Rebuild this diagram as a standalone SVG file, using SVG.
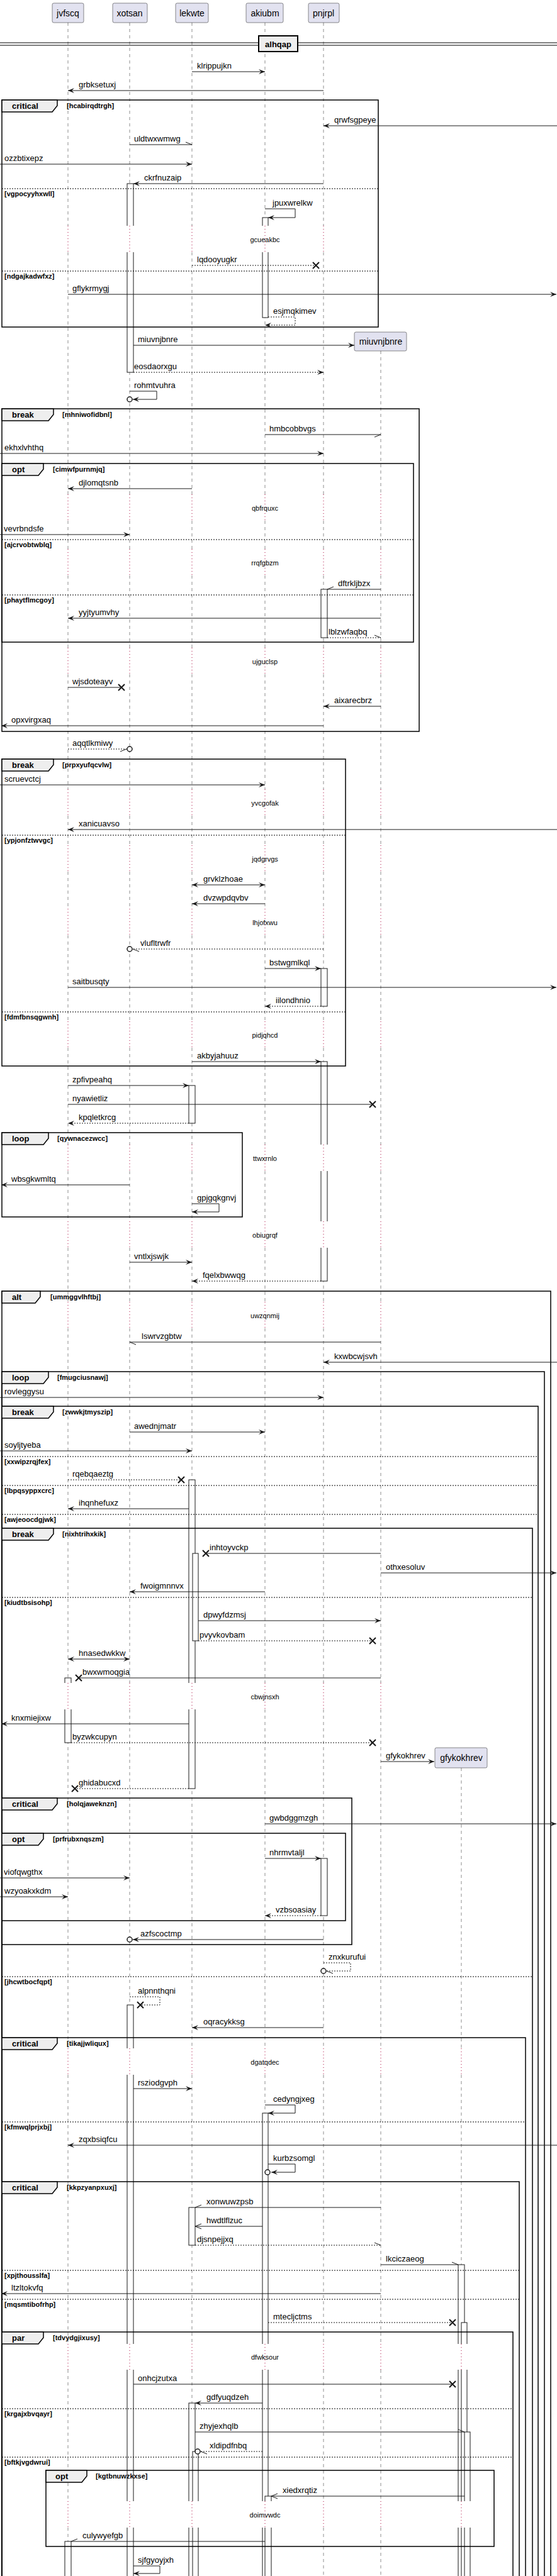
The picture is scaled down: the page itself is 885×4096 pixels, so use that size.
<svg xmlns="http://www.w3.org/2000/svg" width="885" height="4096" viewBox="0 0 885 4096">
<style>
text{font-family:"Liberation Sans",Arial,sans-serif;fill:#000}
.t{font-size:13px}
.p{font-size:14px}
.dt{font-size:11px}
.g{font-size:11px;font-weight:bold}
.b{font-size:13px;font-weight:bold}
.ll{stroke:#181818;stroke-width:0.5;stroke-dasharray:5,5;fill:none}
.dl{stroke:#A80036;stroke-width:1;stroke-dasharray:1,4;fill:none}
.act{fill:#FFFFFF;stroke:#181818;stroke-width:1}
.cov{fill:#FFFFFF;stroke:none}
.fr{fill:none;stroke:#000;stroke-width:1.5}
.tab{fill:#EEEEEE;stroke:#000;stroke-width:1.5}
.sep{stroke:#000;stroke-width:1;stroke-dasharray:2,2}
.m{stroke:#181818;stroke-width:1;fill:none}
.d{stroke-dasharray:2,2}
.x{stroke:#181818;stroke-width:2}
.c{fill:#FFFFFF;stroke:#181818;stroke-width:1.5}
.box{fill:#E2E2F0;stroke:#181818;stroke-width:0.5}
</style>
<defs>
<marker id="f" viewBox="-11 -5 12 10" refX="0" refY="0" markerWidth="12" markerHeight="10" markerUnits="userSpaceOnUse" orient="auto-start-reverse"><path d="M-10,-4L0,0L-10,4L-6,0Z" fill="#181818"/></marker>
<marker id="o" viewBox="-11 -5 12 10" refX="0" refY="0" markerWidth="12" markerHeight="10" markerUnits="userSpaceOnUse" orient="auto"><path d="M-10,-4L0,0L-10,4" fill="none" stroke="#181818" stroke-width="1"/></marker>
<marker id="hu" viewBox="-11 -5 12 10" refX="0" refY="0" markerWidth="12" markerHeight="10" markerUnits="userSpaceOnUse" orient="auto"><path d="M-10,-4L0,0" fill="none" stroke="#181818" stroke-width="1"/></marker>
<marker id="hd" viewBox="-11 -5 12 10" refX="0" refY="0" markerWidth="12" markerHeight="10" markerUnits="userSpaceOnUse" orient="auto"><path d="M-10,4L0,0" fill="none" stroke="#181818" stroke-width="1"/></marker>
<path id="lla" d="M0 36V359M0 401V786M0 828V873M0 915V1030M0 1072V1255M0 1297V1344M0 1386V1445M0 1487V1624M0 1666V1820M0 1862V1942M0 1984V2070M0 2112V2676M0 2718V3257M0 3299V3727M0 3768V3977M0 4019V4096"/>
<path id="llm" d="M0 558V786M0 828V873M0 915V1030M0 1072V1255M0 1297V1344M0 1386V1445M0 1487V1624M0 1666V1820M0 1862V1942M0 1984V2070M0 2112V2676M0 2718V3257M0 3299V3727M0 3768V3977M0 4019V4096"/>
<path id="llg" d="M0 2811V3257M0 3299V3727M0 3768V3977M0 4019V4096"/>
<path id="dla" d="M0 359V401M0 786V828M0 873V915M0 1030V1072M0 1255V1297M0 1344V1386M0 1445V1487M0 1624V1666M0 1820V1862M0 1942V1984M0 2070V2112M0 2676V2718M0 3257V3299M0 3727V3768M0 3977V4019"/>
<path id="dlm" d="M0 786V828M0 873V915M0 1030V1072M0 1255V1297M0 1344V1386M0 1445V1487M0 1624V1666M0 1820V1862M0 1942V1984M0 2070V2112M0 2676V2718M0 3257V3299M0 3727V3768M0 3977V4019"/>
<path id="dlg" d="M0 3257V3299M0 3727V3768M0 3977V4019"/>
</defs>
<rect x="0" y="0" width="885" height="4096" fill="#FFFFFF"/>
<g id="lifelines" class="ll">
<use href="#lla" x="108"/><use href="#lla" x="206"/><use href="#lla" x="305"/><use href="#lla" x="421"/><use href="#lla" x="514"/><use href="#llm" x="605"/><use href="#llg" x="733"/>
</g>
<g id="activations">
<rect class="act" x="202" y="292" width="10" height="300"/>
<rect class="act" x="417" y="346" width="9" height="159"/>
<rect class="act" x="510" y="937" width="10" height="77"/>
<rect class="act" x="510" y="1540" width="10" height="60"/>
<rect class="act" x="510" y="1688" width="10" height="349"/>
<rect class="act" x="300" y="1726" width="10" height="60"/>
<rect class="act" x="300" y="2353" width="10" height="491"/>
<rect class="act" x="306" y="2470" width="9" height="139"/>
<rect class="act" x="103" y="2668" width="10" height="103"/>
<rect class="act" x="510" y="2955" width="10" height="91"/>
<rect class="act" x="202" y="3188" width="10" height="920"/>
<rect class="act" x="417" y="3360" width="9" height="750"/>
<rect class="act" x="300" y="3510" width="10" height="60"/>
<rect class="act" x="728" y="3601" width="10" height="510"/>
<rect class="act" x="733" y="3693" width="9" height="420"/>
<rect class="act" x="300" y="3821" width="10" height="290"/>
<rect class="act" x="738" y="3867" width="9" height="240"/>
<rect class="act" x="306" y="3898" width="9" height="210"/>
<rect class="act" x="421" y="3969" width="10" height="140"/>
<rect class="act" x="103" y="4041" width="10" height="70"/>
</g>
<g id="delaycovers">
<rect class="cov" x="201" y="359" width="12" height="42"/>
<rect class="cov" x="416" y="359" width="11" height="42"/>
<rect class="cov" x="509" y="1820" width="12" height="42"/>
<rect class="cov" x="509" y="1942" width="12" height="42"/>
<rect class="cov" x="102" y="2676" width="12" height="42"/>
<rect class="cov" x="299" y="2676" width="12" height="42"/>
<rect class="cov" x="201" y="3257" width="12" height="42"/>
<rect class="cov" x="201" y="3727" width="12" height="41"/>
<rect class="cov" x="416" y="3727" width="11" height="41"/>
<rect class="cov" x="727" y="3727" width="16" height="41"/>
<rect class="cov" x="201" y="3977" width="12" height="42"/>
<rect class="cov" x="299" y="3977" width="17" height="42"/>
<rect class="cov" x="416" y="3977" width="16" height="42"/>
<rect class="cov" x="727" y="3977" width="21" height="42"/>
</g>
<g id="delaylines" class="dl">
<use href="#dla" x="108"/><use href="#dla" x="206"/><use href="#dla" x="305"/><use href="#dla" x="421"/><use href="#dla" x="514"/><use href="#dlm" x="605"/><use href="#dlg" x="733"/>
</g>
<g id="delaytexts" class="dt" text-anchor="middle">
<text x="421" y="385">gcueakbc</text>
<text x="421" y="812">qbfrquxc</text>
<text x="421" y="899">rrqfgbzm</text>
<text x="421" y="1056">ujguclsp</text>
<text x="421" y="1281">yvcgofak</text>
<text x="421" y="1370">jqdgrvgs</text>
<text x="421" y="1471">lhjofxwu</text>
<text x="421" y="1650">pidjqhcd</text>
<text x="421" y="1846">ttwxrnlo</text>
<text x="421" y="1968">obiugrqf</text>
<text x="421" y="2096">uwzqnmij</text>
<text x="421" y="2702">cbwjnsxh</text>
<text x="421" y="3283">dgatqdec</text>
<text x="421" y="3752">dfwksour</text>
<text x="421" y="4003">doimvwdc</text>
</g>
<g id="divider-alhqap">
<line x1="0" y1="68" x2="885" y2="68" stroke="#000" stroke-width="1"/>
<line x1="0" y1="72" x2="885" y2="72" stroke="#000" stroke-width="1"/>
<rect x="411" y="57" width="62" height="25" fill="#EEEEEE" stroke="#000" stroke-width="2"/>
<text class="b" x="442" y="75" text-anchor="middle">alhqap</text>
</g>
<g id="frames">
<g id="f1"><rect class="fr" x="3" y="159" width="598" height="361"/><path class="tab" d="M3 159H91V168L83 178H3Z"/><text class="b" x="19" y="173">critical</text><text class="g" x="106" y="172">[hcabirqdtrgh]</text>
<line class="sep" x1="3" y1="300" x2="601" y2="300"/><text class="g" x="7" y="312">[vgpocyyhxwll]</text>
<line class="sep" x1="3" y1="431" x2="601" y2="431"/><text class="g" x="7" y="443">[ndgajkadwfxz]</text></g>
<g id="f2"><rect class="fr" x="3" y="650" width="663" height="513"/><path class="tab" d="M3 650H85V659L77 669H3Z"/><text class="b" x="19" y="664">break</text><text class="g" x="99" y="663">[mhniwofidbnl]</text></g>
<g id="f3"><rect class="fr" x="3" y="737" width="654" height="284"/><path class="tab" d="M3 737H69V746L61 756H3Z"/><text class="b" x="19" y="751">opt</text><text class="g" x="84" y="750">[cimwfpurnmjq]</text>
<line class="sep" x1="3" y1="858" x2="657" y2="858"/><text class="g" x="7" y="870">[ajcrvobtwblq]</text>
<line class="sep" x1="3" y1="946" x2="657" y2="946"/><text class="g" x="7" y="958">[phaytflmcgoy]</text></g>
<g id="f4"><rect class="fr" x="3" y="1207" width="546" height="488"/><path class="tab" d="M3 1207H85V1216L77 1226H3Z"/><text class="b" x="19" y="1221">break</text><text class="g" x="99" y="1220">[prpxyufqcvlw]</text>
<line class="sep" x1="3" y1="1328" x2="549" y2="1328"/><text class="g" x="7" y="1340">[ypjonfztwvgc]</text>
<line class="sep" x1="3" y1="1609" x2="549" y2="1609"/><text class="g" x="7" y="1621">[fdmfbnsqgwnh]</text></g>
<g id="f5"><rect class="fr" x="3" y="1801" width="382" height="134"/><path class="tab" d="M3 1801H77V1810L69 1820H3Z"/><text class="b" x="19" y="1815">loop</text><text class="g" x="91" y="1814">[qywnacezwcc]</text></g>
<g id="f6"><rect class="fr" x="3" y="2053" width="872" height="2150"/><path class="tab" d="M3 2053H64V2062L56 2072H3Z"/><text class="b" x="19" y="2067">alt</text><text class="g" x="80" y="2066">[ummggvlhftbj]</text></g>
<g id="f7"><rect class="fr" x="3" y="2181" width="862" height="2020"/><path class="tab" d="M3 2181H77V2190L69 2200H3Z"/><text class="b" x="19" y="2195">loop</text><text class="g" x="91" y="2194">[fmugciusnawj]</text></g>
<g id="f8"><rect class="fr" x="3" y="2236" width="852" height="1960"/><path class="tab" d="M3 2236H85V2245L77 2255H3Z"/><text class="b" x="19" y="2250">break</text><text class="g" x="99" y="2249">[zwwkjtmyszip]</text>
<line class="sep" x1="3" y1="2316" x2="855" y2="2316"/><text class="g" x="7" y="2328">[xxwipzrqjfex]</text>
<line class="sep" x1="3" y1="2362" x2="855" y2="2362"/><text class="g" x="7" y="2374">[lbpqsyppxcrc]</text>
<line class="sep" x1="3" y1="2408" x2="855" y2="2408"/><text class="g" x="7" y="2420">[awjeoocdgjwk]</text></g>
<g id="f9"><rect class="fr" x="3" y="2430" width="843" height="1760"/><path class="tab" d="M3 2430H85V2439L77 2449H3Z"/><text class="b" x="19" y="2444">break</text><text class="g" x="99" y="2443">[nixhtrihxkik]</text>
<line class="sep" x1="3" y1="2540" x2="846" y2="2540"/><text class="g" x="7" y="2552">[kiudtbsisohp]</text>
<line class="sep" x1="3" y1="3143" x2="846" y2="3143"/><text class="g" x="7" y="3155">[jhcwtbocfqpt]</text></g>
<g id="f10"><rect class="fr" x="3" y="2859" width="556" height="233"/><path class="tab" d="M3 2859H91V2868L83 2878H3Z"/><text class="b" x="19" y="2873">critical</text><text class="g" x="106" y="2872">[holqjaweknzn]</text></g>
<g id="f11"><rect class="fr" x="3" y="2915" width="546" height="139"/><path class="tab" d="M3 2915H69V2924L61 2934H3Z"/><text class="b" x="19" y="2929">opt</text><text class="g" x="84" y="2928">[prfrubxnqszm]</text></g>
<g id="f12"><rect class="fr" x="3" y="3240" width="832" height="950"/><path class="tab" d="M3 3240H91V3249L83 3259H3Z"/><text class="b" x="19" y="3254">critical</text><text class="g" x="106" y="3253">[tikajjwliqux]</text>
<line class="sep" x1="3" y1="3374" x2="835" y2="3374"/><text class="g" x="7" y="3386">[kfmwqlprjxbj]</text></g>
<g id="f13"><rect class="fr" x="3" y="3469" width="822" height="720"/><path class="tab" d="M3 3469H91V3478L83 3488H3Z"/><text class="b" x="19" y="3483">critical</text><text class="g" x="106" y="3482">[kkpzyanpxuxj]</text>
<line class="sep" x1="3" y1="3610" x2="825" y2="3610"/><text class="g" x="7" y="3622">[xpjthousslfa]</text>
<line class="sep" x1="3" y1="3656" x2="825" y2="3656"/><text class="g" x="7" y="3668">[mqsmtibofrhp]</text></g>
<g id="f14"><rect class="fr" x="3" y="3708" width="812" height="480"/><path class="tab" d="M3 3708H69V3717L61 3727H3Z"/><text class="b" x="19" y="3722">par</text><text class="g" x="84" y="3721">[tdvydgjixusy]</text>
<line class="sep" x1="3" y1="3830" x2="815" y2="3830"/><text class="g" x="7" y="3842">[krgajxbvqayr]</text>
<line class="sep" x1="3" y1="3907" x2="815" y2="3907"/><text class="g" x="7" y="3919">[bftkjvgdwrui]</text></g>
<g id="f15"><rect class="fr" x="73" y="3928" width="712" height="121"/><path class="tab" d="M73 3928H138V3937L130 3947H73Z"/><text class="b" x="88" y="3942">opt</text><text class="g" x="152" y="3941">[kgtbnuwzkxse]</text></g>
</g>
<g id="connectors" class="t">
<line class="m" x1="305" y1="114" x2="421" y2="114" marker-end="url(#f)"/><text x="313" y="109">klrippujkn</text>
<line class="m" x1="514" y1="144" x2="108" y2="144" marker-end="url(#f)"/><text x="125" y="139">grbksetuxj</text>
<line class="m" x1="885" y1="200" x2="514" y2="200" marker-end="url(#f)"/><text x="531" y="195">qrwfsgpeye</text>
<line class="m" x1="206" y1="230" x2="305" y2="230" marker-end="url(#hu)"/><text x="213" y="225">uldtwxwmwg</text>
<line class="m" x1="0" y1="261" x2="305" y2="261" marker-end="url(#f)"/><text x="7" y="256">ozzbtixepz</text>
<line class="m" x1="514" y1="292" x2="212" y2="292" marker-end="url(#f)"/><text x="229" y="287">ckrfnuzaip</text>
<path class="m" d="M421 332H469V346H426" marker-end="url(#f)"/><text x="433" y="327">jpuxwrelkw</text>
<line class="m d" x1="305" y1="422" x2="502" y2="422"/><path class="x" d="M497 417L507 427M507 417L497 427"/><text x="313" y="417">lqdooyugkr</text>
<line class="m" x1="108" y1="468" x2="884" y2="468" marker-end="url(#f)"/><text x="115" y="463">gflykrmygj</text>
<path class="m d" d="M426 504H469V517H421" marker-end="url(#f)"/><text x="434" y="499">esjmqkimev</text>
<line class="m" x1="212" y1="549" x2="563" y2="549" marker-end="url(#f)"/><text x="219" y="544">miuvnjbnre</text>
<line class="m d" x1="212" y1="592" x2="514" y2="592" marker-end="url(#f)"/><text x="213" y="587">eosdaorxgu</text>
<path class="m" d="M206 622H249V635H211" marker-end="url(#f)"/><circle class="c" cx="206" cy="635" r="4"/><text x="213" y="617">rohmtvuhra</text>
<line class="m" x1="421" y1="691" x2="605" y2="691" marker-end="url(#hd)"/><text x="428" y="686">hmbcobbvgs</text>
<line class="m" x1="0" y1="721" x2="514" y2="721" marker-end="url(#f)"/><text x="7" y="716">ekhxlvhthq</text>
<line class="m" x1="305" y1="777" x2="108" y2="777" marker-end="url(#f)"/><text x="125" y="772">djlomqtsnb</text>
<line class="m" x1="0" y1="850" x2="206" y2="850" marker-end="url(#f)"/><text x="6" y="845">vevrbndsfe</text>
<line class="m" x1="605" y1="937" x2="520" y2="937" marker-end="url(#hd)"/><text x="537" y="932">dftrkljbzx</text>
<line class="m" x1="605" y1="983" x2="108" y2="983" marker-end="url(#f)"/><text x="125" y="978">yyjtyumvhy</text>
<line class="m d" x1="520" y1="1014" x2="605" y2="1014" marker-end="url(#hu)"/><text x="522" y="1009">lblzwfaqbq</text>
<line class="m" x1="108" y1="1093" x2="193" y2="1093"/><path class="x" d="M188 1088L198 1098M198 1088L188 1098"/><text x="115" y="1088">wjsdoteayv</text>
<line class="m" x1="605" y1="1123" x2="514" y2="1123" marker-end="url(#f)"/><text x="531" y="1118">aixarecbrz</text>
<line class="m" x1="514" y1="1154" x2="2" y2="1154" marker-end="url(#f)"/><text x="18" y="1149">opxvirgxaq</text>
<line class="m d" x1="108" y1="1191" x2="201" y2="1191" marker-end="url(#hd)"/><circle class="c" cx="206" cy="1191" r="4"/><text x="115" y="1186">aqqtlkmiwy</text>
<line class="m" x1="0" y1="1248" x2="421" y2="1248" marker-end="url(#f)"/><text x="7" y="1243">scruevctcj</text>
<line class="m" x1="885" y1="1319" x2="108" y2="1319" marker-end="url(#f)"/><text x="125" y="1314">xanicuavso</text>
<line class="m" x1="305" y1="1407" x2="421" y2="1407" marker-start="url(#f)" marker-end="url(#f)"/><text x="323" y="1402">grvklzhoae</text>
<line class="m" x1="421" y1="1437" x2="305" y2="1437" marker-end="url(#f)"/><text x="323" y="1432">dvzwpdqvbv</text>
<line class="m d" x1="514" y1="1509" x2="211" y2="1509" marker-end="url(#hu)"/><circle class="c" cx="206" cy="1509" r="4"/><text x="223" y="1504">vlufltrwfr</text>
<line class="m" x1="421" y1="1540" x2="510" y2="1540" marker-end="url(#f)"/><text x="428" y="1535">bstwgmlkql</text>
<line class="m" x1="108" y1="1570" x2="884" y2="1570" marker-end="url(#f)"/><text x="115" y="1565">saitbusqty</text>
<line class="m d" x1="510" y1="1600" x2="421" y2="1600" marker-end="url(#f)"/><text x="438" y="1595">iilondhnio</text>
<line class="m" x1="305" y1="1688" x2="510" y2="1688" marker-end="url(#f)"/><text x="313" y="1683">akbyjahuuz</text>
<line class="m" x1="108" y1="1726" x2="300" y2="1726" marker-end="url(#f)"/><text x="115" y="1721">zpfivpeahq</text>
<line class="m" x1="108" y1="1756" x2="592" y2="1756"/><path class="x" d="M587 1751L597 1761M597 1751L587 1761"/><text x="115" y="1751">nyawietliz</text>
<line class="m d" x1="300" y1="1786" x2="108" y2="1786" marker-end="url(#f)"/><text x="125" y="1781">kpqletkrcg</text>
<line class="m" x1="206" y1="1884" x2="2" y2="1884" marker-end="url(#f)"/><text x="18" y="1879">wbsgkwmltq</text>
<path class="m" d="M305 1914H348V1927H305" marker-end="url(#f)"/><text x="313" y="1909">gpjgqkgnvj</text>
<line class="m" x1="206" y1="2007" x2="305" y2="2007" marker-end="url(#f)"/><text x="213" y="2002">vntlxjswjk</text>
<line class="m d" x1="510" y1="2037" x2="305" y2="2037" marker-end="url(#f)"/><text x="322" y="2032">fqelxbwwqg</text>
<line class="m" x1="605" y1="2134" x2="206" y2="2134" marker-end="url(#hu)"/><text x="225" y="2129">lswrvzgbtw</text>
<line class="m" x1="885" y1="2166" x2="514" y2="2166" marker-end="url(#f)"/><text x="531" y="2161">kxwbcwjsvh</text>
<line class="m" x1="0" y1="2222" x2="514" y2="2222" marker-end="url(#f)"/><text x="7" y="2217">rovleggysu</text>
<line class="m" x1="206" y1="2277" x2="421" y2="2277" marker-end="url(#f)"/><text x="213" y="2272">awednjmatr</text>
<line class="m" x1="0" y1="2307" x2="305" y2="2307" marker-end="url(#f)"/><text x="7" y="2302">soyljtyeba</text>
<line class="m d" x1="108" y1="2353" x2="288" y2="2353"/><path class="x" d="M283 2348L293 2358M293 2348L283 2358"/><text x="115" y="2348">rqebqaeztg</text>
<line class="m" x1="300" y1="2399" x2="108" y2="2399" marker-end="url(#f)"/><text x="125" y="2394">ihqnhefuxz</text>
<line class="m" x1="605" y1="2470" x2="327" y2="2470"/><path class="x" d="M322 2465L332 2475M332 2465L322 2475"/><text x="333" y="2465">inhtoyvckp</text>
<line class="m" x1="605" y1="2501" x2="884" y2="2501" marker-end="url(#f)"/><text x="613" y="2496">othxesoluv</text>
<line class="m" x1="421" y1="2531" x2="206" y2="2531" marker-end="url(#f)"/><text x="223" y="2526">fwoigmnnvx</text>
<line class="m" x1="315" y1="2577" x2="605" y2="2577" marker-end="url(#f)"/><text x="323" y="2572">dpwyfdzmsj</text>
<line class="m d" x1="315" y1="2609" x2="592" y2="2609"/><path class="x" d="M587 2604L597 2614M597 2604L587 2614"/><text x="317" y="2604">pvyvkovbam</text>
<line class="m" x1="108" y1="2638" x2="206" y2="2638" marker-start="url(#f)" marker-end="url(#f)"/><text x="125" y="2633">hnasedwkkw</text>
<line class="m" x1="605" y1="2668" x2="125" y2="2668"/><path class="x" d="M120 2663L130 2673M130 2663L120 2673"/><text x="131" y="2663">bwxwmoqgia</text>
<line class="m" x1="300" y1="2741" x2="2" y2="2741" marker-end="url(#f)"/><text x="18" y="2736">knxmiejixw</text>
<line class="m d" x1="113" y1="2771" x2="592" y2="2771"/><path class="x" d="M587 2766L597 2776M597 2766L587 2776"/><text x="115" y="2766">byzwkcupyn</text>
<line class="m" x1="605" y1="2801" x2="690" y2="2801" marker-end="url(#f)"/><text x="613" y="2796">gfykokhrev</text>
<line class="m d" x1="300" y1="2844" x2="119" y2="2844"/><path class="x" d="M114 2839L124 2849M124 2839L114 2849"/><text x="125" y="2839">ghidabucxd</text>
<line class="m" x1="421" y1="2900" x2="884" y2="2900" marker-end="url(#f)"/><text x="428" y="2895">gwbdggmzgh</text>
<line class="m" x1="421" y1="2955" x2="510" y2="2955" marker-end="url(#f)"/><text x="428" y="2950">nhrmvtaljl</text>
<line class="m" x1="0" y1="2986" x2="206" y2="2986" marker-end="url(#f)"/><text x="6" y="2981">viofqwgthx</text>
<line class="m" x1="0" y1="3016" x2="108" y2="3016" marker-end="url(#f)"/><text x="7" y="3011">wzyoakxkdm</text>
<line class="m d" x1="510" y1="3046" x2="421" y2="3046" marker-end="url(#f)"/><text x="438" y="3041">vzbsoasiay</text>
<line class="m" x1="514" y1="3084" x2="211" y2="3084" marker-end="url(#f)"/><circle class="c" cx="206" cy="3084" r="4"/><text x="223" y="3079">azfscoctmp</text>
<path class="m d" d="M514 3121H557V3134H519" marker-end="url(#hu)"/><circle class="c" cx="514" cy="3134" r="4"/><text x="522" y="3116">znxkurufui</text>
<path class="m d" d="M206 3175H254V3188H223"/><path class="x" d="M218 3183L228 3193M228 3183L218 3193"/><text x="219" y="3170">alpnnthqni</text>
<line class="m" x1="514" y1="3224" x2="305" y2="3224" marker-end="url(#f)"/><text x="323" y="3219">oqracykksg</text>
<line class="m" x1="212" y1="3321" x2="305" y2="3321" marker-end="url(#f)"/><text x="219" y="3316">rsziodgvph</text>
<path class="m" d="M421 3347H469V3360H426" marker-end="url(#f)"/><text x="434" y="3342">cedyngjxeg</text>
<line class="m" x1="885" y1="3411" x2="108" y2="3411" marker-end="url(#f)"/><text x="125" y="3406">zqxbsiqfcu</text>
<path class="m" d="M426 3441H469V3454H431" marker-end="url(#f)"/><circle class="c" cx="425" cy="3454" r="4"/><text x="434" y="3436">kurbzsomgl</text>
<line class="m" x1="605" y1="3510" x2="310" y2="3510" marker-end="url(#hd)"/><text x="328" y="3505">xonwuwzpsb</text>
<line class="m" x1="417" y1="3540" x2="310" y2="3540" marker-end="url(#o)"/><text x="328" y="3535">hwdtlflzuc</text>
<line class="m d" x1="310" y1="3570" x2="605" y2="3570" marker-end="url(#hu)"/><text x="313" y="3565">djsnpejjxq</text>
<line class="m" x1="605" y1="3601" x2="728" y2="3601" marker-end="url(#hu)"/><text x="613" y="3596">lkciczaeog</text>
<line class="m" x1="605" y1="3647" x2="2" y2="3647" marker-end="url(#f)"/><text x="18" y="3642">ltzltokvfq</text>
<line class="m d" x1="426" y1="3693" x2="719" y2="3693"/><path class="x" d="M714 3688L724 3698M724 3688L714 3698"/><text x="434" y="3688">mtecljctms</text>
<line class="m" x1="212" y1="3791" x2="719" y2="3791"/><path class="x" d="M714 3786L724 3796M724 3786L714 3796"/><text x="219" y="3786">onhcjzutxa</text>
<line class="m" x1="417" y1="3821" x2="310" y2="3821" marker-end="url(#f)"/><text x="328" y="3816">gdfyuqdzeh</text>
<line class="m" x1="310" y1="3867" x2="738" y2="3867" marker-end="url(#hu)"/><text x="317" y="3862">zhyjexhqlb</text>
<line class="m d" x1="417" y1="3898" x2="319" y2="3898" marker-end="url(#hu)"/><circle class="c" cx="314" cy="3898" r="4"/><text x="333" y="3893">xldipdfnbq</text>
<line class="m" x1="738" y1="3969" x2="431" y2="3969" marker-end="url(#o)"/><text x="449" y="3964">xiedxrqtiz</text>
<line class="m" x1="421" y1="4041" x2="113" y2="4041" marker-end="url(#hd)"/><text x="131" y="4036">culywyefgb</text>
<path class="m" d="M212 4080H254V4092H212" marker-end="url(#f)"/><text x="219" y="4075">sjfgyoyjxh</text>
</g>
<g id="p-jvfscq"><rect class="box" x="83" y="5" width="50" height="31" rx="2.5"/><text class="p" x="108" y="26" text-anchor="middle">jvfscq</text></g>
<g id="p-xotsan"><rect class="box" x="179" y="5" width="55" height="31" rx="2.5"/><text class="p" x="206" y="26" text-anchor="middle">xotsan</text></g>
<g id="p-lekwte"><rect class="box" x="279" y="5" width="52" height="31" rx="2.5"/><text class="p" x="305" y="26" text-anchor="middle">lekwte</text></g>
<g id="p-akiubm"><rect class="box" x="391" y="5" width="59" height="31" rx="2.5"/><text class="p" x="421" y="26" text-anchor="middle">akiubm</text></g>
<g id="p-pnjrpl"><rect class="box" x="490" y="5" width="49" height="31" rx="2.5"/><text class="p" x="514" y="26" text-anchor="middle">pnjrpl</text></g>
<g id="p-miuvnjbnre"><rect class="box" x="563" y="528" width="83" height="30" rx="2.5"/><text class="p" x="605" y="548" text-anchor="middle">miuvnjbnre</text></g>
<g id="p-gfykokhrev"><rect class="box" x="691" y="2779" width="83" height="32" rx="2.5"/><text class="p" x="733" y="2800" text-anchor="middle">gfykokhrev</text></g>
</svg>
